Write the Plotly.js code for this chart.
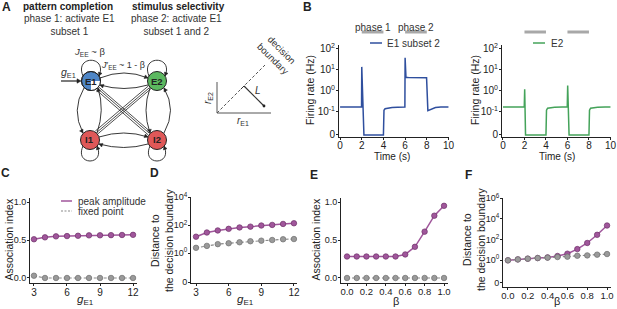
<!DOCTYPE html>
<html><head><meta charset="utf-8">
<script src="https://cdn.plot.ly/plotly-3.0.1.min.js"></script>
<style>html,body{margin:0;padding:0;background:#fff;}#chart{width:617px;height:309px;}</style>
</head><body><div id="chart"></div>
<script>
// ---------- data ----------
const timeE1 = [0, 1.98, 2.0, 2.2, 4.0, 4.05, 4.15, 4.4, 4.8, 5.3, 5.98, 6.0, 6.08, 6.3, 7.0, 7.98, 8.1, 8.2, 8.4, 8.8, 9.3, 10];
const rateE1 = [0.17, 0.17, 14, 0, 0, 0.12, 0.14, 0.15, 0.16, 0.165, 0.17, 38, 4.4, 4.3, 4.2, 4.2, 0.115, 0.12, 0.14, 0.16, 0.17, 0.17];
const timeE2 = [0, 1.98, 2.02, 2.1, 4.0, 4.05, 4.15, 4.4, 4.8, 5.5, 5.98, 6.02, 6.15, 8.0, 8.05, 8.15, 8.4, 8.8, 9.5, 10];
const rateE2 = [0.17, 0.17, 1.2, 0, 0, 0.12, 0.15, 0.16, 0.165, 0.17, 0.17, 1.8, 0, 0, 0.12, 0.15, 0.16, 0.165, 0.17, 0.17];
const phaseStart = [2, 6];
const phaseEnd = [4, 8];
const phaseNames = ['phase 1', 'phase 2'];

const gE1 = [3, 4, 5, 6, 7, 8, 9, 10, 11, 12];
const assocPeakG = [0.51, 0.535, 0.548, 0.552, 0.556, 0.561, 0.562, 0.564, 0.566, 0.568];
const assocFixedG = [0.03, 0, 0, 0, 0, 0, 0, 0, 0, 0];
const distPeakG = [15, 30, 42, 55, 69, 79, 95, 105, 123, 138];
const distFixedG = [2.4, 3.3, 4.4, 5.1, 6.0, 7.1, 7.8, 8.7, 9.8, 10.2];

const beta = [0, 0.1, 0.2, 0.3, 0.4, 0.5, 0.6, 0.7, 0.8, 0.9, 1.0];
const assocPeakB = [0.283, 0.283, 0.283, 0.283, 0.283, 0.283, 0.31, 0.41, 0.61, 0.82, 0.95];
const assocFixedB = [0, 0, 0, 0, 0, 0, 0, 0, 0, 0, 0];
const distPeakB = [0.93, 1.15, 1.35, 1.55, 1.8, 2.45, 4.1, 11.5, 45, 280, 2240];
const distFixedB = [0.93, 1.15, 1.35, 1.55, 1.7, 1.95, 2.1, 2.6, 2.8, 3.3, 3.8];

const legendB1 = 'E1 subset 2';
const legendB2 = 'E2';
const legendPeak = 'peak amplitude';
const legendFixed = 'fixed point';

// ---------- helpers ----------
const W = 617, H = 309;
const px = x => x / W;
const py = y => 1 - y / H;
const sym = (v, z) => v > 0 ? Math.log10(v) : z;
const ZB = -2.1, ZD = -2.07, ZF = -2.23;

const FONT = 'Liberation Sans, Arial, sans-serif';
const INK = '#222';
const PURPLE = '#a0569b', PURPLE_EDGE = '#6f3169';
const GRAY = '#9a9a9a', GRAY_EDGE = '#6e6e6e', GRAY_LINE = '#8a8a8a';
const BLUE = '#2f4f9e', GREEN = '#44a35a';

function toPaper(d) {
  const toks = d.trim().split(/\s+/);
  const out = []; let isX = true;
  for (const t of toks) {
    if (/^[A-Za-z]$/.test(t)) { out.push(t); isX = true; }
    else { const v = parseFloat(t); out.push(isX ? (v / W).toFixed(5) : (1 - v / H).toFixed(5)); isX = !isX; }
  }
  return out.join(' ');
}
const shapes = [];
const annotations = [];
function pathS(d, color, width, fill, dash) {
  const s = {type: 'path', xref: 'paper', yref: 'paper', path: toPaper(d), line: {color: color || INK, width: width || 1, dash: dash || 'solid'}, layer: 'above'};
  if (fill) s.fillcolor = fill;
  shapes.push(s);
}
function line(x0, y0, x1, y1, color, width, dash) {
  shapes.push({type: 'line', xref: 'paper', yref: 'paper', x0: px(x0), y0: py(y0), x1: px(x1), y1: py(y1), line: {color: color || INK, width: width || 1, dash: dash || 'solid'}, layer: 'above'});
}
function circle(cx, cy, r, fill, lw) {
  shapes.push({type: 'circle', xref: 'paper', yref: 'paper', x0: px(cx - r), x1: px(cx + r), y0: py(cy + r), y1: py(cy - r), fillcolor: fill, line: {color: INK, width: lw === undefined ? 1 : lw}, layer: 'above'});
}
function arrowHead(tx, ty, ang, size, color) {
  const a = ang * Math.PI / 180, s = size || 3.5;
  const bx = tx - s * Math.cos(a), by = ty - s * Math.sin(a);
  const nx = -Math.sin(a) * s * 0.55, ny = Math.cos(a) * s * 0.55;
  pathS(`M ${tx} ${ty} L ${bx + nx} ${by + ny} L ${bx - nx} ${by - ny} Z`, color || INK, 0.5, color || INK);
}
function text(x, y, t, opts) {
  opts = opts || {};
  annotations.push({xref: 'paper', yref: 'paper', x: px(x), y: py(y), text: t, showarrow: false,
    xanchor: opts.xanchor || 'center', yanchor: opts.yanchor || 'middle', textangle: opts.angle || 0,
    font: {family: opts.family || FONT, size: opts.size || 10, color: opts.color || INK}, align: opts.align || 'center'});
}

// ---------- panel letters & headers ----------
text(6, 7, '<b>A</b>', {size: 12});
text(307, 7, '<b>B</b>', {size: 12});
text(5, 173, '<b>C</b>', {size: 12});
text(154, 173, '<b>D</b>', {size: 12});
text(314, 175, '<b>E</b>', {size: 12});
text(469, 175, '<b>F</b>', {size: 12});
text(68, 7, '<b>pattern completion</b>', {size: 10});
text(178, 7, '<b>stimulus selectivity</b>', {size: 10});
text(69, 25, 'phase 1: activate E1<br>subset 1', {size: 10, color: '#333'});
text(177, 25, 'phase 2: activate E1<br>subset 1 and 2', {size: 10, color: '#333'});

// ---------- network diagram ----------
const E1 = [91, 81], E2 = [157, 81], I1 = [90, 140], I2 = [157, 140], R = 9.5;
pathS('M 83 76 C 74 55 108 55 99 76', INK, 0.9); arrowHead(99, 76, 110, 3.5);
pathS('M 149 76 C 140 55 174 55 165 76', INK, 0.9); arrowHead(165, 76, 110, 3.5);
pathS('M 83 146 C 74 166 106 166 97 146', INK, 0.9); arrowHead(97, 146, -110, 3.5);
pathS('M 150 146 C 141 166 173 166 164 146', INK, 0.9); arrowHead(164, 146, -110, 3.5);
pathS('M 84 88 Q 71 110 83 133', INK, 0.9); arrowHead(83, 133, 60, 3.5);
pathS('M 98 88 Q 105 110 97 133', INK, 0.9); arrowHead(98, 88, -100, 3.5);
pathS('M 150 88 Q 142 110 150 133', INK, 0.9); arrowHead(150, 133, 80, 3.5);
pathS('M 164 88 Q 177 110 164 133', INK, 0.9); arrowHead(164, 88, -120, 3.5);
pathS('M 100 78 Q 124 68 148 78', INK, 0.9); arrowHead(148, 78, 22, 3.5);
pathS('M 100 85 Q 124 92 148 85', INK, 0.9); arrowHead(100, 85, 200, 3.5);
pathS('M 99 137 Q 124 129 148 137', INK, 0.9); arrowHead(148, 137, 20, 3.5);
pathS('M 99 144 Q 124 151 148 144', INK, 0.9); arrowHead(99, 144, 200, 3.5);
function diag(a, b, offs) {
  const dx = b[0] - a[0], dy = b[1] - a[1], L = Math.hypot(dx, dy);
  const nx = -dy / L, ny = dx / L;
  offs.forEach(o => line(a[0] + nx * o, a[1] + ny * o, b[0] + nx * o, b[1] + ny * o, INK, 0.8));
}
diag([98, 88], [150, 133], [-1.2, 0.6, 2.6]);
diag([150, 88], [97, 133], [-1.2, 0.6, 2.6]);
circle(E1[0], E1[1], R, '#4f86c6');
pathS(`M ${E1[0]} ${E1[1]} L ${E1[0] + R} ${E1[1]} C ${E1[0] + R} ${E1[1] + R * 0.55} ${E1[0] + R * 0.55} ${E1[1] + R} ${E1[0]} ${E1[1] + R} Z`, 'rgba(0,0,0,0)', 0, '#ffffff');
circle(E1[0], E1[1], R, 'rgba(0,0,0,0)');
circle(E2[0], E2[1], R, '#5cb860');
circle(I1[0], I1[1], R, '#df5858');
circle(I2[0], I2[1], R, '#df5858');
text(E1[0], E1[1], '<b>E1</b>', {size: 9.5});
text(E2[0], E2[1], '<b>E2</b>', {size: 9.5});
text(I1[0], I1[1], '<b>I1</b>', {size: 9.5});
text(I2[0], I2[1], '<b>I2</b>', {size: 9.5});
line(61, 81, 78, 81, INK, 1.2); arrowHead(81, 81, 0, 4);
text(68, 73, '<i>g</i><sub>E1</sub>', {size: 10.5, color: '#333'});
text(89, 52, '<i>J</i><sub>EE</sub> ~ β', {size: 9.5, color: '#333'});
text(123, 65, '<i>J</i>\u2032<sub>EE</sub> ~ 1 - β', {size: 9, color: '#333'});

// decision boundary sketch
line(217, 82, 217, 113, '#555', 1);
line(217, 113, 271, 113, '#555', 1);
line(217, 113, 265, 65, '#555', 1, '3px,2px');
line(244, 86, 264, 106, '#333', 1.2);
line(241, 89, 244, 86, '#333', 1);
circle(264, 106, 1.4, INK, 0);
text(258, 91, '<i>L</i>', {size: 10, color: '#333'});
text(208, 98, '<i>r</i><sub>E2</sub>', {size: 10, angle: -90, color: '#333'});
text(243, 121, '<i>r</i><sub>E1</sub>', {size: 10, color: '#333'});
text(278, 54, 'decision<br>boundary', {size: 9.5, angle: 45, color: '#333'});

// ---------- panel B decorations ----------
['x', 'x2'].forEach((xr, k) => {
  phaseStart.forEach((s, i) => {
    shapes.push({type: 'line', xref: xr, yref: 'paper', x0: s, x1: phaseEnd[i], y0: py(32), y1: py(32), line: {color: '#a8a8a8', width: 3}});
    if (k === 0) annotations.push({xref: xr, yref: 'paper', x: (s + phaseEnd[i]) / 2, y: py(20), text: phaseNames[i], showarrow: false, font: {family: FONT, size: 10, color: '#333'}});
  });
});
line(370, 43, 382, 43, BLUE, 1.5); text(385, 43, legendB1, {xanchor: 'left', size: 10, color: '#333'});
line(533, 43, 545, 43, GREEN, 1.5); text(549, 43, legendB2, {xanchor: 'left', size: 10, color: '#333'});
text(310, 90, 'Firing rate (Hz)', {angle: -90, size: 10.5});
text(475, 90, 'Firing rate (Hz)', {angle: -90, size: 10.5});
text(392, 156, 'Time (s)', {size: 10});
text(557, 156, 'Time (s)', {size: 10});

// ---------- panels C-F titles / legend ----------
line(61, 201, 72, 201, PURPLE, 1.5); text(76, 201, legendPeak, {xanchor: 'left', size: 10, color: '#333'});
line(61, 211, 72, 211, GRAY_LINE, 1.2, '2px,1.5px'); text(76, 211, legendFixed, {xanchor: 'left', size: 10, color: '#333'});
text(8.5, 240, 'Association index', {angle: -90, size: 10.5});
text(162, 240, 'Distance to<br>the decision boundary', {angle: -90, size: 10.5});
text(315.5, 240, 'Association index', {angle: -90, size: 10.5});
text(474, 240, 'Distance to<br>the decision boundary', {angle: -90, size: 10.5});
text(85, 300, '<i>g</i><sub>E1</sub>', {size: 11.5});
text(245, 300, '<i>g</i><sub>E1</sub>', {size: 11.5});
text(396, 301, 'β', {size: 11});
text(557, 301, 'β', {size: 11});

// ---------- traces ----------
function series(x, y, xa, ya, kind) {
  const peak = kind === 'peak';
  return {x: x, y: y, xaxis: xa, yaxis: ya, type: 'scatter', mode: 'lines+markers', showlegend: false, hoverinfo: 'skip', cliponaxis: false,
    line: {color: peak ? PURPLE : GRAY_LINE, width: peak ? 1.5 : 1.2, dash: peak ? 'solid' : '3px,2px'},
    marker: {size: 5.5, color: peak ? PURPLE : GRAY, line: {color: peak ? PURPLE_EDGE : GRAY_EDGE, width: 0.7}}};
}
const traces = [
  {x: timeE1, y: rateE1.map(v => sym(v, ZB)), xaxis: 'x', yaxis: 'y', type: 'scatter', mode: 'lines', name: legendB1, showlegend: false, line: {color: BLUE, width: 1.5}},
  {x: timeE2, y: rateE2.map(v => sym(v, ZB)), xaxis: 'x2', yaxis: 'y2', type: 'scatter', mode: 'lines', name: legendB2, showlegend: false, line: {color: GREEN, width: 1.5}},
  series(gE1, assocFixedG, 'x3', 'y3', 'fixed'),
  series(gE1, assocPeakG, 'x3', 'y3', 'peak'),
  series(gE1, distFixedG.map(v => sym(v, ZD)), 'x4', 'y4', 'fixed'),
  series(gE1, distPeakG.map(v => sym(v, ZD)), 'x4', 'y4', 'peak'),
  series(beta, assocFixedB, 'x5', 'y5', 'fixed'),
  series(beta, assocPeakB, 'x5', 'y5', 'peak'),
  series(beta, distPeakB.map(v => sym(v, ZF)), 'x6', 'y6', 'peak'),
  series(beta, distFixedB.map(v => sym(v, ZF)), 'x6', 'y6', 'fixed')
];

// ---------- axes ----------
function ax(domain, range, anchor, extra, fsize, tl, so) {
  return Object.assign({domain: domain, range: range, anchor: anchor, showline: true, linecolor: INK, linewidth: 1,
    ticks: 'outside', ticklen: tl === undefined ? 2 : tl, tickcolor: INK, showgrid: false, zeroline: false, fixedrange: true,
    ticklabelstandoff: so || 0,
    tickfont: {family: FONT, size: fsize || 9.5, color: INK}}, extra || {});
}
const pow = e => '10<sup>' + e + '</sup>';
const yB = {tickmode: 'array', tickvals: [ZB, -1, 0, 1, 2], ticktext: ['0', pow('-1'), pow(0), pow(1), pow(2)]};
const xB = {tickmode: 'array', tickvals: [0, 2, 4, 6, 8, 10]};
const xG = {tickmode: 'array', tickvals: [3, 6, 9, 12]};
const xBeta = {tickmode: 'array', tickvals: [0, 0.2, 0.4, 0.6, 0.8, 1.0], ticktext: ['0.0', '0.2', '0.4', '0.6', '0.8', '1.0']};
const yAssoc = {tickmode: 'array', tickvals: [0, 0.5, 1], ticktext: ['0.0', '0.5', '1.0']};

const layout = {
  width: W, height: H, margin: {l: 0, r: 0, t: 0, b: 0},
  paper_bgcolor: '#fff', plot_bgcolor: 'rgba(0,0,0,0)', showlegend: false,
  font: {family: FONT, color: INK},
  xaxis: ax([px(339), px(449)], [-0.1, 10.05], 'y', xB, 10, 2, -3),
  yaxis: ax([py(137), py(45)], [-2.2, 2.19], 'x', yB, 10, 2, -1),
  xaxis2: ax([px(502), px(611)], [-0.09, 10.05], 'y2', xB, 10, 2, -3),
  yaxis2: ax([py(137), py(45)], [-2.2, 2.19], 'x2', yB, 10, 2, -1),
  xaxis3: ax([px(30), px(137)], [2.64, 12.36], 'y3', xG, 10, 2, -2),
  yaxis3: ax([py(283), py(198)], [-0.066, 1.053], 'x3', yAssoc, 9, 2, -1),
  xaxis4: ax([px(191), px(297)], [2.54, 12.28], 'y4', xG, 10, 2, -2),
  yaxis4: ax([py(283), py(197)], [-2.14, 4.02], 'x4', {tickmode: 'array', tickvals: [ZD, 0, 2, 4], ticktext: ['0', pow(0), pow(2), pow(4)]}, 9, 2, -1),
  xaxis5: ax([px(341), px(448)], [-0.062, 1.041], 'y5', xBeta, 9.5, 2, -2),
  yaxis5: ax([py(283), py(198)], [-0.066, 1.053], 'x5', yAssoc, 9, 2, -1),
  xaxis6: ax([px(503), px(611)], [-0.05, 1.04], 'y6', xBeta, 9.5, 2, -2),
  yaxis6: ax([py(287), py(198)], [-2.62, 6.02], 'x6', {tickmode: 'array', tickvals: [ZF, 0, 2, 4, 6], ticktext: ['0', pow(0), pow(2), pow(4), pow(6)]}, 9, 2, -1),
  shapes: shapes,
  annotations: annotations
};
Plotly.newPlot('chart', traces, layout, {displayModeBar: false, staticPlot: true});
</script>
</body></html>
